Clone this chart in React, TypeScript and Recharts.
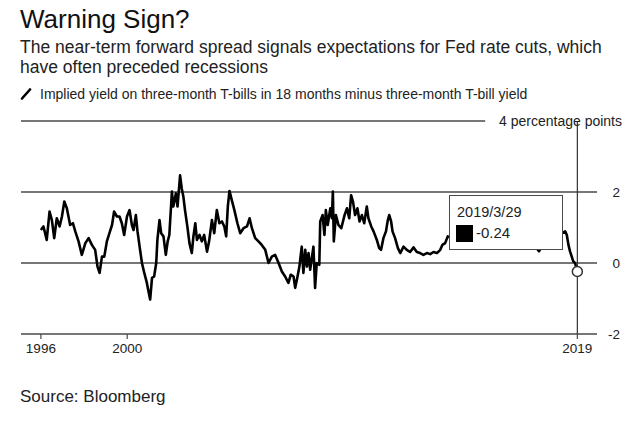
import React from "react";
import { LineChart, Line, XAxis, YAxis, ReferenceLine, Tooltip } from "recharts";

// fractional years
const dates = [
  1996.31, 1996.42, 1996.56, 1996.68, 1996.78, 1996.88, 1996.99, 1997.11, 1997.21, 1997.31,
  1997.42, 1997.56, 1997.68, 1997.78, 1997.92, 1998.06, 1998.21, 1998.35, 1998.49, 1998.63,
  1998.73, 1998.82, 1998.92, 1999.02, 1999.13, 1999.24, 1999.35, 1999.44, 1999.56, 1999.67,
  1999.77, 1999.87, 1999.99, 2000.1, 2000.2, 2000.27, 2000.37, 2000.44, 2000.53, 2000.63,
  2000.73, 2000.84, 2000.91, 2000.98, 2001.06, 2001.15, 2001.24, 2001.29, 2001.38, 2001.45,
  2001.55, 2001.65, 2001.73, 2001.8, 2001.91, 2001.97, 2002.08, 2002.15, 2002.26, 2002.33,
  2002.4, 2002.47, 2002.57, 2002.66, 2002.76, 2002.83, 2002.91, 2002.98, 2003.09, 2003.19,
  2003.29, 2003.41, 2003.5, 2003.62, 2003.72, 2003.83, 2003.94, 2004.05, 2004.15, 2004.23,
  2004.3, 2004.37, 2004.47, 2004.58, 2004.71, 2004.83, 2004.97, 2005.12, 2005.23, 2005.33,
  2005.47, 2005.61, 2005.75, 2005.9, 2006.04, 2006.18, 2006.32, 2006.47, 2006.61, 2006.75,
  2006.89, 2006.99, 2007.11, 2007.18, 2007.28, 2007.36, 2007.46, 2007.53, 2007.61, 2007.68,
  2007.75, 2007.82, 2007.89, 2007.96, 2008.03, 2008.1, 2008.21, 2008.25, 2008.35, 2008.43,
  2008.49, 2008.57, 2008.68, 2008.75, 2008.79, 2008.83, 2008.92, 2009.03, 2009.15, 2009.29,
  2009.39, 2009.49, 2009.57, 2009.65, 2009.74, 2009.84, 2009.93, 2010.03, 2010.13, 2010.24,
  2010.31, 2010.43, 2010.53, 2010.67, 2010.77, 2010.85, 2010.95, 2011.06, 2011.14, 2011.2,
  2011.28, 2011.34, 2011.45, 2011.57, 2011.67, 2011.81, 2011.95, 2012.09, 2012.24, 2012.38,
  2012.52, 2012.66, 2012.81, 2012.95, 2013.09, 2013.24, 2013.38, 2013.47, 2013.59, 2013.7,
  2013.9, 2014.2, 2014.5, 2014.8, 2015.1, 2015.4, 2015.7, 2016.0, 2016.3, 2016.6,
  2016.9, 2017.2, 2017.4, 2017.6, 2017.8, 2018.1, 2018.4, 2018.72, 2018.79, 2018.86,
  2018.93, 2019.0, 2019.07, 2019.14, 2019.24,
];

// percentage points
const spread = [
  0.93, 1.03, 0.65, 1.45, 1.21, 0.7, 1.26, 1.03, 1.31, 1.73,
  1.54, 1.07, 1.12, 0.89, 0.61, 0.23, 0.56, 0.7, 0.51, 0.37,
  -0.1, -0.28, 0.18, 0.18, 0.61, 0.84, 1.07, 1.45, 1.31, 1.31,
  1.12, 0.79, 1.31, 1.49, 1.07, 0.93, 1.35, 0.89, 0.46, 0.0,
  -0.28, -0.56, -0.8, -1.03, -0.42, -0.38, 0.0, 0.65, 1.21, 0.84,
  0.75, 0.23, 0.61, 0.79, 2.01, 1.59, 1.96, 1.59, 2.47, 2.1,
  1.87, 1.49, 1.03, 0.56, 0.28, 0.75, 1.12, 0.65, 0.79, 0.61,
  0.79, 0.32, 0.61, 1.21, 0.84, 1.49, 1.12, 1.17, 1.03, 0.75,
  1.59, 2.03, 1.77, 1.49, 1.12, 0.84, 0.98, 1.03, 1.26, 0.98,
  0.7, 0.61, 0.51, 0.37, 0.0, 0.18, 0.23, 0.0, -0.24, -0.38,
  -0.56, -0.33, -0.38, -0.7, -0.38, -0.1, 0.46, -0.28, 0.37, -0.1,
  0.28, -0.19, 0.14, 0.46, -0.7, 0.0, -0.05, 1.17, 1.35, 0.79,
  1.49, 1.07, 1.54, 1.26, 2.01, 0.61, 1.35, 1.07, 0.98, 1.35,
  1.54, 1.26, 1.91, 1.73, 1.35, 1.54, 1.17, 1.35, 1.12, 1.59,
  1.26, 1.03, 0.89, 0.65, 0.42, 0.37, 0.7, 0.89, 1.21, 1.35,
  1.17, 0.89, 0.7, 0.42, 0.28, 0.46, 0.37, 0.31, 0.44, 0.31,
  0.28, 0.23, 0.28, 0.25, 0.31, 0.28, 0.37, 0.51, 0.56, 0.75,
  0.7, 0.62, 0.8, 0.66, 0.58, 0.72, 0.55, 0.5, 0.46, 0.45,
  0.62, 0.55, 0.5, 0.33, 0.55, 0.7, 0.78, 0.89, 0.79, 0.51,
  0.32, 0.18, 0.04, 0.0, -0.24,
];

const xTicks = [1996.31, 2000, 2019.24];
const yTicks = [-2, 0, 2, 4];
const xDomain = [1995.46, 2020.08];

const data = dates.map((d, i) => ({ date: d, spread: spread[i] }));

const FONT = '"Liberation Sans", Arial, Helvetica, sans-serif';
const GRID = "#4a4a4a";

function toDateLabel(v: number) {
  const yr = Math.floor(v);
  const d = new Date(Date.UTC(yr, 0, 1) + (v - yr) * 365 * 86400000);
  return `${yr}/${d.getUTCMonth() + 1}/${d.getUTCDate()}`;
}

function YTick({ x, y, payload }: any) {
  const top = payload.value === 4;
  return (
    <text
      x={x + (top ? 25 : 23)}
      y={y}
      dy="0.35em"
      textAnchor="end"
      fontSize={top ? 14 : 13.5}
      fill="#222"
      fontFamily={FONT}
    >
      {top ? "4 percentage points" : payload.value}
    </text>
  );
}

function TipBox({ active, payload }: any) {
  if (!active || !payload || !payload.length) return null;
  const p = payload[0];
  return (
    <div
      style={{
        position: "relative",
        width: 114,
        height: 55,
        boxSizing: "border-box",
        background: "#fff",
        border: `1.5px solid ${GRID}`,
        fontFamily: FONT,
        color: "#222",
      }}
    >
      <div style={{ position: "absolute", left: 7, top: 7, fontSize: 14.5, lineHeight: "18px" }}>
        {toDateLabel(p.payload.date)}
      </div>
      <div
        style={{ position: "absolute", left: 6, top: 29, width: 17, height: 17, background: "#000" }}
      />
      <div style={{ position: "absolute", left: 26, top: 28, fontSize: 15, lineHeight: "18px" }}>
        {p.value.toFixed(2)}
      </div>
    </div>
  );
}

export default function App() {
  return (
    <div
      style={{
        position: "absolute",
        left: 0,
        top: 0,
        width: 630,
        height: 423,
        background: "#fff",
        fontFamily: FONT,
        color: "#1a1a1a",
      }}
    >
      <div style={{ position: "absolute", left: 0, top: 0 }}>
        <LineChart
          width={630}
          height={423}
          data={data}
          margin={{ top: 121, right: 0, left: 21, bottom: 59 }}
        >
          <XAxis
            dataKey="date"
            type="number"
            domain={xDomain}
            ticks={xTicks}
            allowDataOverflow
            tickFormatter={(v: number) => String(Math.floor(v))}
            axisLine={{ stroke: GRID, strokeWidth: 1.5 }}
            tickLine={{ stroke: GRID, strokeWidth: 1.2 }}
            tickSize={5}
            tickMargin={4}
            height={30}
            tick={{ fontSize: 13.5, fill: "#222", fontFamily: FONT }}
          />
          <YAxis
            orientation="right"
            domain={[-2, 4]}
            ticks={yTicks}
            width={33}
            axisLine={false}
            tickLine={false}
            tickSize={0}
            tickMargin={0}
            tick={<YTick />}
          />
          <ReferenceLine
            segment={[
              { x: xDomain[0], y: 4 },
              { x: 2015.3, y: 4 },
            ]}
            stroke={GRID}
            strokeWidth={1.5}
          />
          <ReferenceLine y={2} stroke={GRID} strokeWidth={1.5} />
          <ReferenceLine y={0} stroke={GRID} strokeWidth={1.5} />
          <Line
            type="linear"
            dataKey="spread"
            stroke="#000"
            strokeWidth={2.6}
            strokeLinejoin="round"
            dot={false}
            activeDot={{ r: 5, fill: "#fff", stroke: "#333", strokeWidth: 1.5 }}
            isAnimationActive={false}
          />
          <Tooltip
            active
            defaultIndex={data.length - 1}
            position={{ x: 449, y: 195 }}
            cursor={{ stroke: "#333", strokeWidth: 1.2 }}
            content={<TipBox />}
            isAnimationActive={false}
            wrapperStyle={{ outline: "none" }}
          />
        </LineChart>
      </div>

      <div style={{ position: "absolute", left: 20, top: 4, fontSize: 26, lineHeight: "30px", color: "#111" }}>
        Warning Sign?
      </div>
      <div
        style={{
          position: "absolute",
          left: 20,
          top: 37,
          width: 600,
          fontSize: 17.5,
          lineHeight: "20px",
          color: "#222",
        }}
      >
        The near-term forward spread signals expectations for Fed rate cuts, which have often
        preceded recessions
      </div>
      <div style={{ position: "absolute", left: 20, top: 85, display: "flex", alignItems: "center" }}>
        <svg width={12} height={12} style={{ marginRight: 8 }}>
          <line x1={2} y1={10.5} x2={10} y2={1.5} stroke="#000" strokeWidth={2.6} strokeLinecap="round" />
        </svg>
        <span style={{ fontSize: 14, lineHeight: "18px", color: "#222" }}>
          Implied yield on three-month T-bills in 18 months minus three-month T-bill yield
        </span>
      </div>
      <div style={{ position: "absolute", left: 20, top: 387, fontSize: 17, lineHeight: "20px", color: "#222" }}>
        Source: Bloomberg
      </div>
    </div>
  );
}
